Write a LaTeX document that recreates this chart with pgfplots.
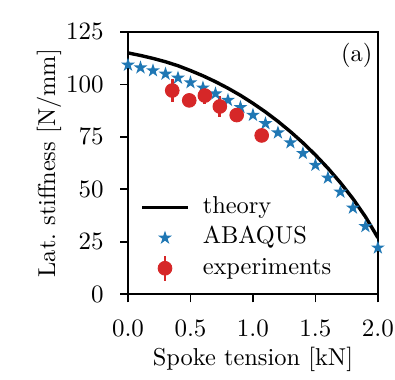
\documentclass[border=0pt]{standalone}
\usepackage{pgfplots}
\pgfplotsset{compat=1.18}
\usetikzlibrary{plotmarks}
\definecolor{tabblue}{HTML}{1F77B4}
\definecolor{tabred}{HTML}{D62728}
\pgfdeclareplotmark{fstar}{%
 \pgfpathmoveto{\pgfpointpolar{90}{\pgfplotmarksize}}%
 \pgfpathlineto{\pgfpointpolar{126}{0.382\pgfplotmarksize}}%
 \pgfpathlineto{\pgfpointpolar{162}{\pgfplotmarksize}}%
 \pgfpathlineto{\pgfpointpolar{198}{0.382\pgfplotmarksize}}%
 \pgfpathlineto{\pgfpointpolar{234}{\pgfplotmarksize}}%
 \pgfpathlineto{\pgfpointpolar{270}{0.382\pgfplotmarksize}}%
 \pgfpathlineto{\pgfpointpolar{306}{\pgfplotmarksize}}%
 \pgfpathlineto{\pgfpointpolar{342}{0.382\pgfplotmarksize}}%
 \pgfpathlineto{\pgfpointpolar{18}{\pgfplotmarksize}}%
 \pgfpathlineto{\pgfpointpolar{54}{0.382\pgfplotmarksize}}%
 \pgfpathclose\pgfusepathqfill}
\pgfplotstableread{
x y
0.0 115.0
0.1 113.8
0.2 112.4
0.3 110.8
0.4 108.9
0.5 106.6
0.6 104.1
0.7 101.3
0.8 98.2
0.9 94.8
1.0 91.0
1.1 86.9
1.2 82.4
1.3 77.5
1.4 72.2
1.5 66.4
1.6 60.1
1.7 53.2
1.8 45.6
1.9 37.0
2.0 27.0
}\theory
\pgfplotstableread{
x y
0.0 109.3
0.1 108.0
0.2 106.6
0.3 105.0
0.4 103.1
0.5 100.9
0.6 98.4
0.7 95.6
0.8 92.5
0.9 89.1
1.0 85.4
1.1 81.4
1.2 77.0
1.3 72.3
1.4 67.2
1.5 61.6
1.6 55.5
1.7 48.8
1.8 41.2
1.9 32.4
2.0 22.2
}\abaqus
\pgfplotstableread{
x y e
0.354 97.1 5.5
0.490 92.4 1.5
0.615 94.7 3.8
0.735 89.5 5.0
0.870 85.4 3.0
1.070 75.7 1.0
}\experiments
\begin{document}
\fontsize{10.7}{12.8}\selectfont
\begin{tikzpicture}
\begin{axis}[name=ax,
 width=109.5pt, height=115pt, scale only axis,
 xmin=0, xmax=2, ymin=0, ymax=125,
 xtick={0,0.5,1,1.5,2}, ytick={0,25,50,75,100,125},
 tick align=outside, xtick pos=bottom, ytick pos=left,
 major tick length=3.5pt,
 every tick/.style={black, line width=0.8pt},
 axis line style={line width=0.8pt},
 xticklabel style={/pgf/number format/fixed, /pgf/number format/fixed zerofill, /pgf/number format/precision=1, anchor=north, inner sep=0pt, yshift=-7.9pt},
 yticklabel style={anchor=east, inner sep=0pt, xshift=-7pt},
 xlabel={Spoke tension [kN]}, ylabel={Lat.\ stiffness [N/mm]},
 xlabel style={at={(axis description cs:0.5,-0.27)}, anchor=base},
 ylabel style={at={(axis description cs:-0.292,0.5)}, anchor=base},
 legend style={draw=none, fill=none, at={(axis description cs:0.048,0.373)}, anchor=north west, inner sep=0pt, row sep=4.0pt, /tikz/every odd column/.style={column sep=5.8pt}, nodes={inner sep=0pt, text height=7.3pt, text depth=2pt}},
 legend cell align=left,
 legend image code/.code={\draw[mark repeat=2,mark phase=2,#1] plot coordinates {(0pt,0pt)(10pt,0pt)(20pt,0pt)};},
]
\addplot[black, line width=1.5pt, mark=none] table[x=x,y=y] {\theory};
\addlegendentry{theory}
\addplot[only marks, mark=fstar, mark size=3.2pt, color=tabblue] table[x=x,y=y] {\abaqus};
\addlegendentry{ABAQUS}
\addplot[only marks, mark=*, mark size=3pt, color=tabred, mark options={draw=tabred, fill=tabred},
 legend image code/.code={\draw[overlay, tabred, line width=1.2pt] (10pt,-5.5pt) -- (10pt,5.5pt); \fill[tabred] (10pt,0pt) circle (3pt); \path[draw=none,fill=none] (0pt,0pt) -- (20pt,0pt);},
 error bars/.cd, y dir=both, y explicit, error mark=none, error bar style={line width=1.2pt, tabred},
 ] table[x=x,y=y,y error=e] {\experiments};
\addlegendentry{experiments}
\node at (rel axis cs:0.915,0.91) {(a)};
\end{axis}
\path ([xshift=-56.1pt,yshift=-36.4pt]ax.south west) rectangle ([xshift=7.5pt,yshift=14pt]ax.north east);
\end{tikzpicture}
\end{document}
